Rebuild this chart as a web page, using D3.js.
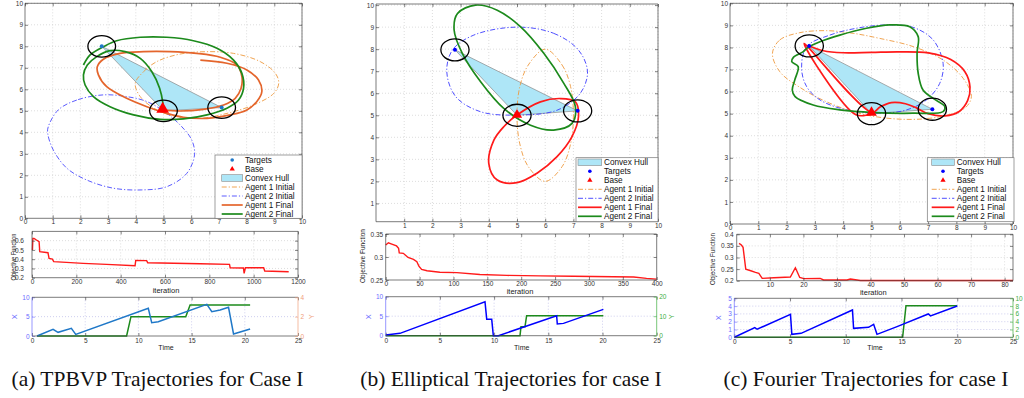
<!DOCTYPE html>
<html>
<head>
<meta charset="utf-8">
<script src="https://cdn.jsdelivr.net/npm/d3@7"></script>
<style>
  body { margin: 0; background: #fff; }
  svg { display: block; }
</style>
</head>
<body>
<script>
// ---------- data : panel (a) TPBVP ----------
var aTargets = [[2.77, 8.0], [7.1, 5.15]];
var aBase = [[4.97, 5.08]];
var aHull = [[2.77, 8.0], [7.1, 5.15], [5.0, 5.0]];
var aA1Init = [[3.98,6.28],[4.28,6.82],[4.76,7.29],[5.6,7.64],[6.57,7.75],[7.53,7.67],[8.49,7.29],[9.04,6.74],[9.16,6.28],[8.98,5.81],[8.25,5.27],[7.29,4.88],[6.33,4.65],[5.48,4.73],[4.76,5.04],[4.16,5.66]];
var aA2Init = [[2.83,5.74],[1.87,5.5],[1.2,5.04],[0.84,4.26],[0.82,3.95],[1.02,3.18],[1.51,2.33],[2.23,1.78],[3.19,1.4],[4.22,1.32],[5.12,1.47],[5.84,2.09],[6.12,2.95],[6.02,3.64],[5.66,4.26],[5.12,4.88],[4.4,5.43],[3.67,5.66]];
var aA1Final = [[6.33,7.36],[7.29,7.21],[8.01,6.9],[8.43,6.43],[8.55,5.89],[8.37,5.43],[8.01,5.04],[7.41,4.81],[6.57,4.65],[5.72,4.7],[5.12,4.88],[4.4,5.19],[3.67,5.58],[2.95,6.12],[2.65,6.67],[2.61,7.05],[2.83,7.4],[3.43,7.67],[4.28,7.75],[5.24,7.75],[6.2,7.67],[7.05,7.49],[7.65,7.13],[7.83,6.59],[7.8,6.05],[7.59,5.58],[7.17,5.27],[6.45,5.07],[5.6,4.99],[5.0,5.04]];
var aA2Final = [[2.11,7.13],[2.35,7.6],[2.83,7.98],[3.31,8.26],[4.16,8.42],[5.12,8.42],[6.08,8.26],[6.93,7.91],[7.53,7.36],[7.83,6.74],[7.89,6.05],[7.71,5.5],[7.29,5.12],[6.57,4.81],[5.72,4.62],[4.88,4.6],[3.92,4.81],[3.07,5.19],[2.47,5.66],[2.17,6.2],[2.11,6.67],[2.25,7.13],[2.59,7.52],[3.07,7.8],[3.61,7.75],[4.16,7.44],[4.58,6.82],[4.86,6.05],[4.98,5.35],[5.0,4.96]];
var aIter = [2, 4, 9, 20, 32, 35, 72, 77, 92, 98, 155, 231, 336, 465, 468, 517, 522, 759, 891, 894, 954, 957, 963, 1045, 1050, 1158];
var aObj = [0.5, 0.625, 0.625, 0.607, 0.589, 0.481, 0.47, 0.409, 0.40, 0.373, 0.366, 0.355, 0.344, 0.33, 0.387, 0.384, 0.362, 0.351, 0.344, 0.308, 0.305, 0.247, 0.308, 0.308, 0.272, 0.265];
var aTimeX = [0.47, 1.98, 2.45, 3.7, 4.11, 10.93, 11.25, 11.87, 16.43, 16.9, 17.68, 18.47, 18.94, 20.5];
var aValX = [0, 1.72, 0.95, 1.98, 0.43, 7.16, 3.45, 3.7, 8.19, 6.29, 6.72, 7.41, 0.52, 1.81];
var aTimeY = [0.47, 8.89, 9.3, 14.45, 14.86, 20.5];
var aValY = [0, 0, 2, 2, 3.21, 3.21];

// ---------- data : panel (b) Elliptical ----------
var bTargets = [[2.8, 7.97], [7.15, 5.2]];
var bBase = [[5.0, 5.02]];
var bHull = [[2.8, 7.97], [7.15, 5.2], [5.0, 5.0]];
var bA1Init = [[6.0,8.0],[6.6,7.28],[6.9,6.3],[7.0,5.0],[6.9,3.7],[6.6,2.67],[6.0,2.0],[5.4,2.67],[5.1,3.7],[5.0,5.0],[5.1,6.3],[5.4,7.28]];
var bA2Init = [[5.0,9.0],[6.3,8.72],[7.18,7.96],[7.5,6.97],[7.24,5.99],[6.42,5.23],[5.0,5.01],[3.71,5.16],[2.83,5.84],[2.51,6.97],[2.71,7.96],[3.47,8.64]];
var bA1Final = [[5.0,5.01],[5.83,5.61],[6.54,5.76],[7.07,5.61],[7.18,4.93],[6.95,4.03],[6.42,3.12],[5.71,2.37],[5.0,1.94],[4.3,2.06],[4.0,2.81],[4.18,3.87],[4.53,4.48]];
var bA2Final = [[3.53,10.0],[4.3,9.77],[5.12,9.02],[5.95,7.81],[6.66,6.45],[7.07,5.39],[6.95,4.63],[6.3,4.33],[5.48,4.55],[4.53,5.31],[3.71,6.52],[3.06,7.81],[2.77,8.87],[2.89,9.62]];
var bIter = [0, 4, 9, 16, 19, 20, 26, 33, 41, 46, 49, 53, 61, 80, 105, 139, 179, 228, 277, 366, 385, 400];
var bObj = [0.326, 0.331, 0.328, 0.324, 0.319, 0.309, 0.308, 0.299, 0.295, 0.29, 0.28, 0.273, 0.27, 0.267, 0.266, 0.262, 0.26, 0.259, 0.258, 0.2565, 0.2536, 0.252];
var bTimeX = [0, 1.32, 9.16, 9.32, 9.78, 9.93, 10.4, 15.77, 15.83, 16.4, 20.08];
var bValX = [0.17, 0.6, 8.72, 4.19, 4.19, 0, 0, 5.13, 2.99, 3.16, 6.75];
var bTimeY = [0, 12.39, 12.48, 12.85, 13.0, 20.08];
var bValY = [0, 0, 4.6, 4.6, 10.26, 10.26];

// ---------- data : panel (c) Fourier ----------
var cTargets = [[2.8, 8.07], [7.15, 5.2]];
var cBase = [[5.0, 5.05]];
var cHull = [[2.8, 8.07], [7.15, 5.2], [5.0, 5.0]];
var cA1Init = [[1.5,7.73],[1.76,8.34],[2.47,8.67],[3.41,8.76],[4.35,8.64],[5.29,8.41],[6.47,8.04],[7.53,7.43],[8.24,6.6],[8.53,5.77],[8.29,5.24],[7.41,4.86],[6.24,4.74],[4.82,4.94],[3.53,5.47],[2.47,6.19],[1.76,6.9]];
var cA2Init = [[2.71,8.04],[3.53,8.56],[4.47,8.87],[5.53,9.02],[6.47,8.91],[7.18,8.34],[7.53,7.28],[7.41,6.37],[6.94,5.62],[6.24,5.17],[5.29,5.02],[4.12,5.17],[3.18,5.62],[2.71,6.22],[2.53,7.05]];
var cA1Final = [[5.0,5.0],[4.45,4.95],[2.62,8.18],[5.02,5.05],[5.3,5.3],[5.7,5.5],[6.2,5.45],[6.6,5.25],[7.0,5.0],[7.6,4.9],[8.1,5.1],[8.4,5.6],[8.48,6.2],[8.3,6.9],[7.8,7.45],[7.0,7.75],[6.0,7.8],[5.0,7.78],[4.0,7.76],[3.3,7.85],[2.75,8.1]];
var cA2Final = [[2.59,7.81],[2.24,7.55],[2.18,7.36],[2.41,7.13],[2.29,6.53],[2.2,6.07],[2.3,5.77],[2.94,5.39],[3.88,5.17],[5.06,5.05],[6.47,5.02],[7.53,5.09],[7.59,5.32],[7.18,5.69],[6.82,6.07],[6.65,6.83],[6.61,7.73],[6.65,8.49],[6.35,8.94],[5.65,9.02],[4.82,8.87],[3.88,8.56],[3.18,8.26],[2.75,8.0]];
var cIter = [0.8, 1.5, 2, 2.8, 4.3, 5.7, 6.7, 7.7, 11.2, 16.1, 17.6, 18.9, 20.1, 25, 26, 33, 34, 37, 82.5];
var cObj = [0.361, 0.354, 0.344, 0.25, 0.243, 0.236, 0.232, 0.21, 0.213, 0.216, 0.256, 0.214, 0.209, 0.21, 0.203, 0.203, 0.207, 0.201, 0.201];
var cTimeX = [0, 1.84, 2.05, 5.04, 5.16, 5.99, 10.6, 10.7, 12.04, 12.5, 12.8, 14.6, 17.4, 17.6, 20];
var cValX = [0, 1.24, 1.03, 2.95, 0.38, 0.51, 3.5, 1.15, 1.28, 1.67, 0.38, 1.37, 2.99, 2.74, 4.02];
var cTimeY = [0, 15.1, 15.4, 20];
var cValY = [0, 0, 8.12, 8.12];

// ---------- ticks / labels ----------
var circleR = 0.5;                       // radius of the black circles (data units)
var ticks0to10 = [0, 1, 2, 3, 4, 5, 6, 7, 8, 9, 10];
var ticks1to10 = [1, 2, 3, 4, 5, 6, 7, 8, 9, 10];
var aObjXTicks = [0, 200, 400, 600, 800, 1000, 1200];
var aObjYTicks = [0.2, 0.3, 0.4, 0.5, 0.6];
var bObjXTicks = [0, 50, 100, 150, 200, 250, 300, 350, 400];
var bObjYTicks = [0.25, 0.3, 0.35];
var cObjXTicks = [10, 20, 30, 40, 50, 60, 70, 80];
var cObjYTicks = [0.2, 0.25, 0.3, 0.35, 0.4];
var timeTicks = [0, 5, 10, 15, 20, 25];
var aLeftTicks = [0, 5, 10], aRightTicks = [0, 2, 4];
var bLeftTicks = [0, 5, 10], bRightTicks = [0, 10, 20];
var cLeftTicks = [0, 1, 2, 3, 4, 5], cRightTicks = [0, 2, 4, 6, 8, 10];
var captions = ["(a) TPBVP Trajectories for Case I", "(b) Elliptical Trajectories for case I", "(c) Fourier Trajectories for case I"];
var legendA = ["Targets", "Base", "Convex Hull", "Agent 1 Initial", "Agent 2 Initial", "Agent 1 Final", "Agent 2 Final"];
var legendBC = ["Convex Hull", "Targets", "Base", "Agent 1 Initial", "Agent 2 Initial", "Agent 1 Final", "Agent 2 Final"];

var SANS = "'Liberation Sans', Arial, sans-serif";
var HULL = "#aee6f7";
var DASHDOT = "5,2,1.2,2";

var svg = d3.select("body").append("svg").attr("width", 1024).attr("height", 398);

function scales(box, xd, yd) {
  return {
    x: d3.scaleLinear().domain(xd).range([box.l, box.r]),
    y: d3.scaleLinear().domain(yd).range([box.b, box.t])
  };
}

function grid(g, s, box, xt, yt, col) {
  g.append("g").selectAll("line").data(xt).join("line")
    .attr("x1", d => s.x(d)).attr("x2", d => s.x(d)).attr("y1", box.t).attr("y2", box.b)
    .attr("stroke", col).attr("stroke-width", 0.7).attr("stroke-dasharray", "1,2");
  g.append("g").selectAll("line").data(yt).join("line")
    .attr("y1", d => s.y(d)).attr("y2", d => s.y(d)).attr("x1", box.l).attr("x2", box.r)
    .attr("stroke", col).attr("stroke-width", 0.7).attr("stroke-dasharray", "1,2");
}

// inward ticks like matlab, labels outside
function axisGroup(g, axis, tx, ty, col, fs) {
  var a = g.append("g").attr("transform", "translate(" + tx + "," + ty + ")").call(axis);
  a.select(".domain").remove();
  a.selectAll("line").attr("stroke", col).attr("stroke-width", 0.6);
  a.selectAll("text").attr("fill", col).attr("font-size", fs).attr("font-family", SANS);
  return a;
}

function ticksBox(g, s, box, o) {
  var fs = o.fs || 6.5;
  axisGroup(g, d3.axisBottom(s.x).tickValues(o.xt).tickSizeInner(-3).tickSizeOuter(0).tickPadding(o.xpad).tickFormat(d3.format("")), 0, box.b, o.xcol || "#333", fs);
  axisGroup(g, d3.axisLeft(s.y).tickValues(o.yt).tickSizeInner(-3).tickSizeOuter(0).tickPadding(o.ypad).tickFormat(d3.format("")), box.l, 0, o.ycol || "#333", fs);
  axisGroup(g, d3.axisTop(s.x).tickValues(o.xt).tickSizeInner(-3).tickSizeOuter(0).tickFormat(""), 0, box.t, "#333", fs);
  if (!o.noRight)
    axisGroup(g, d3.axisRight(s.y).tickValues(o.yt).tickSizeInner(-3).tickSizeOuter(0).tickFormat(""), box.r, 0, "#333", fs);
  g.append("line").attr("x1", box.l).attr("x2", box.r).attr("y1", box.b).attr("y2", box.b).attr("stroke", "#444").attr("stroke-width", 0.7);
  g.append("line").attr("x1", box.l).attr("x2", box.r).attr("y1", box.t).attr("y2", box.t).attr("stroke", "#444").attr("stroke-width", 0.7);
  g.append("line").attr("x1", box.l).attr("x2", box.l).attr("y1", box.t).attr("y2", box.b).attr("stroke", o.ycol || "#444").attr("stroke-width", 0.7);
  if (!o.noRight)
    g.append("line").attr("x1", box.r).attr("x2", box.r).attr("y1", box.t).attr("y2", box.b).attr("stroke", "#444").attr("stroke-width", 0.7);
}

function label(g, txt, x, y, o) {
  var t = g.append("text").attr("x", 0).attr("y", 0)
    .attr("transform", "translate(" + x + "," + y + ")" + (o.rot ? " rotate(-90)" : ""))
    .attr("text-anchor", "middle").attr("font-family", o.font || SANS)
    .attr("font-size", o.fs).attr("fill", o.col || "#222").text(txt);
  if (o.len) t.attr("textLength", o.len).attr("lengthAdjust", "spacingAndGlyphs");
  return t;
}

// ---------- trajectory plot ----------
function trajPlot(p) {
  var g = svg.append("g");
  var s = scales(p.box, [0, 10], p.yd);
  var clipId = "clip" + p.id;
  svg.append("clipPath").attr("id", clipId).append("rect")
    .attr("x", p.box.l).attr("y", p.box.t).attr("width", p.box.r - p.box.l).attr("height", p.box.b - p.box.t);
  grid(g, s, p.box, ticks1to10, ticks1to10, "#cfcfcf");

  var pts = d => d.map(q => [s.x(q[0]), s.y(q[1])]);
  var closed = d3.line().curve(d3.curveCatmullRomClosed.alpha(0.5));
  var open = d3.line().curve(d3.curveCatmullRom.alpha(0.5));
  var lin = d3.line();
  var c = g.append("g").attr("clip-path", "url(#" + clipId + ")");

  c.append("path").attr("d", lin(pts(p.hull)) + "Z").attr("fill", HULL).attr("stroke", "#8a8a8a").attr("stroke-width", 0.7);
  c.append("path").attr("d", closed(pts(p.a1i))).attr("fill", "none").attr("stroke", p.colA1i).attr("stroke-width", 0.9).attr("stroke-dasharray", DASHDOT);
  c.append("path").attr("d", closed(pts(p.a2i))).attr("fill", "none").attr("stroke", p.colA2i).attr("stroke-width", 0.9).attr("stroke-dasharray", DASHDOT);
  c.append("path").attr("d", (p.a1fClosed ? closed : open)(pts(p.a1f))).attr("fill", "none").attr("stroke", p.colA1f).attr("stroke-width", 1.7);
  c.append("path").attr("d", (p.a2fClosed ? closed : open)(pts(p.a2f))).attr("fill", "none").attr("stroke", p.colA2f).attr("stroke-width", 1.7);

  // black circles round targets and base
  var rings = p.targets.concat([[5.0, 5.0]]);
  c.selectAll(".ring").data(rings).join("ellipse")
    .attr("cx", d => s.x(d[0])).attr("cy", d => s.y(d[1]))
    .attr("rx", s.x(circleR) - s.x(0)).attr("ry", s.y(0) - s.y(circleR))
    .attr("fill", "none").attr("stroke", "#000").attr("stroke-width", 1.3);
  c.selectAll(".tg").data(p.targets).join("circle")
    .attr("cx", d => s.x(d[0])).attr("cy", d => s.y(d[1])).attr("r", 2).attr("fill", p.colT);
  c.selectAll(".bs").data(p.base).join("path")
    .attr("transform", d => "translate(" + s.x(d[0]) + "," + s.y(d[1]) + ")")
    .attr("d", d3.symbol(d3.symbolTriangle, p.baseSize)).attr("fill", "#ff0000");

  ticksBox(g, s, p.box, { xt: p.xt, yt: p.yt, xpad: 1.5, ypad: 2 });

  // legend
  var L = p.leg;
  g.append("rect").attr("x", L.l).attr("y", L.t).attr("width", L.r - L.l).attr("height", L.b - L.t)
    .attr("fill", "#fff").attr("stroke", "#777").attr("stroke-width", 0.7);
  p.legLabels.forEach(function (name, i) {
    var y = L.y0 + i * L.dy;
    var mx = (L.x0 + L.x1) / 2;
    if (name === "Targets") g.append("circle").attr("cx", mx).attr("cy", y).attr("r", 1.8).attr("fill", p.colT);
    else if (name === "Base") g.append("path").attr("transform", "translate(" + mx + "," + y + ")").attr("d", d3.symbol(d3.symbolTriangle, 12)).attr("fill", "#ff0000");
    else if (name === "Convex Hull") g.append("rect").attr("x", L.x0).attr("y", y - 3.3).attr("width", L.x1 - L.x0).attr("height", 6.6).attr("fill", HULL).attr("stroke", "#8a8a8a").attr("stroke-width", 0.6);
    else {
      var col = { "Agent 1 Initial": p.colA1i, "Agent 2 Initial": p.colA2i, "Agent 1 Final": p.colA1f, "Agent 2 Final": p.colA2f }[name];
      var ln = g.append("line").attr("x1", L.x0).attr("x2", L.x1).attr("y1", y).attr("y2", y).attr("stroke", col);
      if (name.indexOf("Initial") > 0) ln.attr("stroke-width", 0.9).attr("stroke-dasharray", DASHDOT);
      else ln.attr("stroke-width", 1.7);
    }
    g.append("text").attr("x", L.tx).attr("y", y + 2.9).attr("font-family", SANS).attr("font-size", 8.2).attr("fill", "#111").text(name);
  });
}

// ---------- objective plot ----------
function objPlot(p) {
  var g = svg.append("g");
  var s = scales(p.box, p.xd, p.yd);
  grid(g, s, p.box, p.xt.filter(v => v > p.xd[0] && v < p.xd[1]), p.yt.filter(v => v > p.yd[0] && v < p.yd[1]), "#cfcfcf");
  var line = d3.line().x((d, i) => s.x(p.iter[i])).y((d, i) => s.y(p.obj[i]));
  g.append("path").datum(p.obj).attr("d", line).attr("fill", "none").attr("stroke", "#ff1a1a").attr("stroke-width", 1.4);
  ticksBox(g, s, p.box, { xt: p.xt, yt: p.yt, xpad: 1.5, ypad: p.ypad });
  label(g, "iteration", p.xl[0], p.xl[1], { fs: 7.5 });
  label(g, "Objective Function", p.yl[0], p.yl[1], { fs: 7.5, rot: true, len: p.yl[2] });
}

// ---------- time plot (two y axes) ----------
function timePlot(p) {
  var g = svg.append("g");
  var s = scales(p.box, [0, 25], [0, p.lmax]);
  var yr = d3.scaleLinear().domain([0, p.rmax]).range([p.box.b, p.box.t]);
  grid(g, s, p.box, [5, 10, 15, 20], p.lt.filter(v => v > 0 && v < p.lmax), "#b9b9e6");
  var lx = d3.line().x((d, i) => s.x(p.tx[i])).y((d, i) => s.y(p.vx[i]));
  var ly = d3.line().x((d, i) => s.x(p.ty[i])).y((d, i) => yr(p.vy[i]));
  g.append("path").datum(p.vy).attr("d", ly).attr("fill", "none").attr("stroke", "#1c8a1c").attr("stroke-width", 1.5);
  g.append("path").datum(p.vx).attr("d", lx).attr("fill", "none").attr("stroke", p.colX).attr("stroke-width", 1.5);
  ticksBox(g, s, p.box, { xt: timeTicks, yt: p.lt, xpad: 2.5, ypad: 2.5, ycol: "#6b6bff", noRight: true });
  axisGroup(g, d3.axisRight(yr).tickValues(p.rt).tickSizeInner(-3).tickSizeOuter(0).tickPadding(2.5).tickFormat(d3.format("")), p.box.r, 0, p.rcol, 6.5);
  g.append("line").attr("x1", p.box.r).attr("x2", p.box.r).attr("y1", p.box.t).attr("y2", p.box.b).attr("stroke", p.rcol).attr("stroke-width", 0.7);
  label(g, "Time", p.xl[0], p.xl[1], { fs: 7 });
  label(g, "X", p.lx[0], p.lx[1], { fs: 7.5, rot: true, col: "#6b6bff" });
  if (p.ly) label(g, "Y", p.ly[0], p.ly[1], { fs: 7.5, rot: true, col: p.rcol });
}

// ---------- panel (a) ----------
trajPlot({
  id: "a", box: { l: 25, r: 302, t: 3.3, b: 218.3 }, yd: [0, 10], xt: ticks0to10, yt: ticks0to10,
  targets: aTargets, base: aBase, hull: aHull, a1i: aA1Init, a2i: aA2Init, a1f: aA1Final, a2f: aA2Final,
  colT: "#1f78c8", colA1i: "#ee9a3e", colA2i: "#4a4aff", colA1f: "#e4652c", colA2f: "#1c8a1c", baseSize: 70,
  leg: { l: 215, r: 302, t: 155, b: 218.3, y0: 160, dy: 9, x0: 221.7, x1: 242.7, tx: 245 }, legLabels: legendA
});
objPlot({ box: { l: 32, r: 298, t: 231.4, b: 277.7 }, xd: [0, 1200], yd: [0.2, 0.7], xt: aObjXTicks, yt: aObjYTicks,
  iter: aIter, obj: aObj, ypad: 8, xl: [166, 292.5], yl: [15.5, 257, 47] });
timePlot({ box: { l: 32, r: 298, t: 297.3, b: 336 }, lmax: 10, rmax: 4, lt: aLeftTicks, rt: aRightTicks,
  tx: aTimeX, vx: aValX, ty: aTimeY, vy: aValY, colX: "#1f78c8", rcol: "#f0a07c",
  xl: [166, 349.5], lx: [17, 316.7], ly: [314, 316.7] });

// ---------- panel (b) ----------
trajPlot({
  id: "b", box: { l: 376, r: 658, t: 4, b: 221.7 }, yd: [0.17, 10.05], xt: ticks1to10, yt: ticks1to10,
  targets: bTargets, base: bBase, hull: bHull, a1i: bA1Init, a2i: bA2Init, a1f: bA1Final, a2f: bA2Final, a1fClosed: true, a2fClosed: true,
  colT: "#0000ff", colA1i: "#ee9a3e", colA2i: "#3c3cff", colA1f: "#ff1a1a", colA2f: "#1c8a1c", baseSize: 45,
  leg: { l: 576, r: 658, t: 157.7, b: 221.7, y0: 162.3, dy: 9, x0: 578, x1: 601.7, tx: 604 }, legLabels: legendBC
});
objPlot({ box: { l: 385.7, r: 656.7, t: 234, b: 280 }, xd: [0, 400], yd: [0.25, 0.35], xt: bObjXTicks, yt: bObjYTicks,
  iter: bIter, obj: bObj, ypad: 2.5, xl: [520, 294], yl: [365, 256, 54] });
timePlot({ box: { l: 385.7, r: 656.7, t: 296.7, b: 335.7 }, lmax: 10, rmax: 20, lt: bLeftTicks, rt: bRightTicks,
  tx: bTimeX, vx: bValX, ty: bTimeY, vy: bValY, colX: "#0000ff", rcol: "#3fae3f",
  xl: [521.7, 349.5], lx: [371, 316.7], ly: [674, 316.7] });

// ---------- panel (c) ----------
trajPlot({
  id: "c", box: { l: 730, r: 1013, t: 3.3, b: 224 }, yd: [0, 10], xt: ticks0to10, yt: ticks0to10,
  targets: cTargets, base: cBase, hull: cHull, a1i: cA1Init, a2i: cA2Init, a1f: cA1Final, a2f: cA2Final, a2fClosed: true,
  colT: "#0000ff", colA1i: "#ee9a3e", colA2i: "#3c3cff", colA1f: "#ff1a1a", colA2f: "#1c8a1c", baseSize: 50,
  leg: { l: 927.3, r: 1014, t: 157.7, b: 221.7, y0: 162.3, dy: 9, x0: 931.7, x1: 954.3, tx: 956.7 }, legLabels: legendBC
});
objPlot({ box: { l: 736.7, r: 1013, t: 234.3, b: 280.7 }, xd: [0.1, 82.5], yd: [0.2, 0.4], xt: cObjXTicks, yt: cObjYTicks,
  iter: cIter, obj: cObj, ypad: 3, xl: [873.3, 294.5], yl: [715, 259, 52] });
timePlot({ box: { l: 734.3, r: 1013, t: 298.3, b: 337.3 }, lmax: 5, rmax: 10, lt: cLeftTicks, rt: cRightTicks,
  tx: cTimeX, vx: cValX, ty: cTimeY, vy: cValY, colX: "#0000ff", rcol: "#3fae3f",
  xl: [875, 350], lx: [721, 317.7], ly: null });

// ---------- captions ----------
var capX = [157.5, 511, 866];
captions.forEach(function (t, i) {
  label(svg, t, capX[i], 386, { fs: 21.5, font: "'Liberation Serif', 'Times New Roman', serif", col: "#111" });
});
</script>
</body>
</html>
